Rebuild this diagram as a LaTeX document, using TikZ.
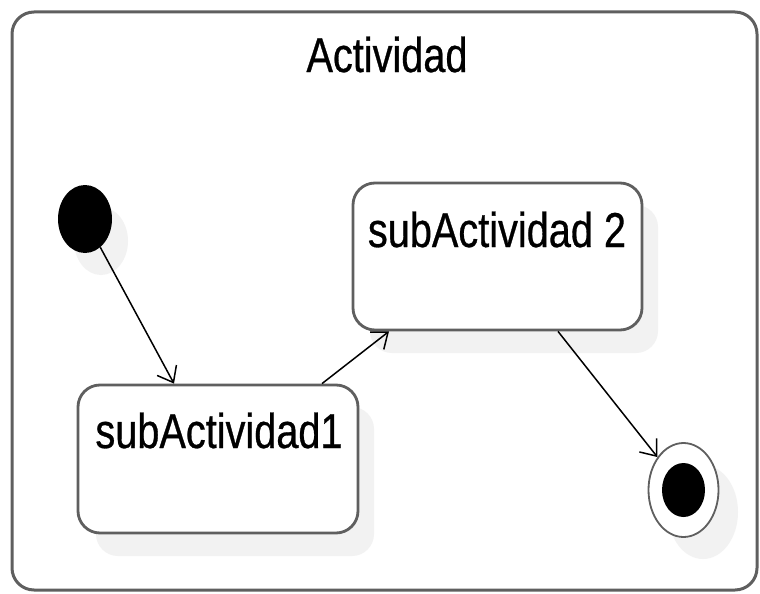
\documentclass[tikz,border=0pt]{standalone}
\usepackage{fontspec}
\newfontfamily\umlfont[FakeStretch=0.81,FakeBold=0.6]{Liberation Sans}
\usetikzlibrary{arrows.meta,shapes.geometric}
\definecolor{edgegray}{RGB}{95,95,95}
\definecolor{shadowgray}{RGB}{242,242,242}
\tikzset{
  frame/.style={draw=edgegray, line width=3pt, rounded corners=22pt, fill=white},
  stbox/.style={draw=edgegray, line width=2.8pt, rounded corners=22pt, fill=white, inner sep=0pt},
  shadowbox/.style={fill=shadowgray, rounded corners=22pt},
  lbl/.style={font=\umlfont\fontsize{49}{55}\selectfont, inner sep=0pt, anchor=base},
  trans/.style={draw=black, line width=1.5pt, -{Straight Barb[length=14pt,width=22pt,line width=1.5pt]}},
}
\begin{document}
\begin{tikzpicture}[x=1pt,y=-1pt]
\useasboundingbox (0,0) rectangle (760,594);
% outer frame
\draw[frame] (12,12) rectangle (757,590);
\node[lbl] (title) at (387,72) {Actividad};
% shadows
\fill[shadowgray] (101,241) ellipse [x radius=27, y radius=34];
\fill[shadowbox] (96,407) rectangle (374,556);
\fill[shadowbox] (370,205) rectangle (658,353);
\fill[shadowgray] (703,512) ellipse [x radius=35, y radius=47];
% initial state
\node[ellipse, fill=black, minimum width=54pt, minimum height=68pt, inner sep=0pt] (init) at (85,219) {};
% states
\node[stbox, minimum width=280pt, minimum height=148pt] (sub1) at (218,459) {};
\node[lbl] (sub1txt) at (219,448) {subActividad1};
\node[stbox, minimum width=289pt, minimum height=147pt] (sub2) at (497.5,256.5) {};
\node[lbl] (sub2txt) at (497,247) {subActividad 2};
% final state
\node[ellipse, draw=edgegray, line width=1.8pt, fill=white, minimum width=70pt, minimum height=94pt, inner sep=0pt] (fin) at (683.5,490) {};
\node[ellipse, fill=black, minimum width=43pt, minimum height=54pt, inner sep=0pt] (finin) at (683.5,490) {};
% transitions
\coordinate (a1) at (174,385);
\draw[trans] (init) -- (sub1.north -| a1);
\coordinate (a2s) at (322,385);
\coordinate (a2e) at (389,330);
\draw[trans] (sub1.north -| a2s) -- (sub2.south -| a2e);
\coordinate (a3s) at (558,330);
\draw[trans] (sub2.south -| a3s) -- (fin);
\end{tikzpicture}
\end{document}
